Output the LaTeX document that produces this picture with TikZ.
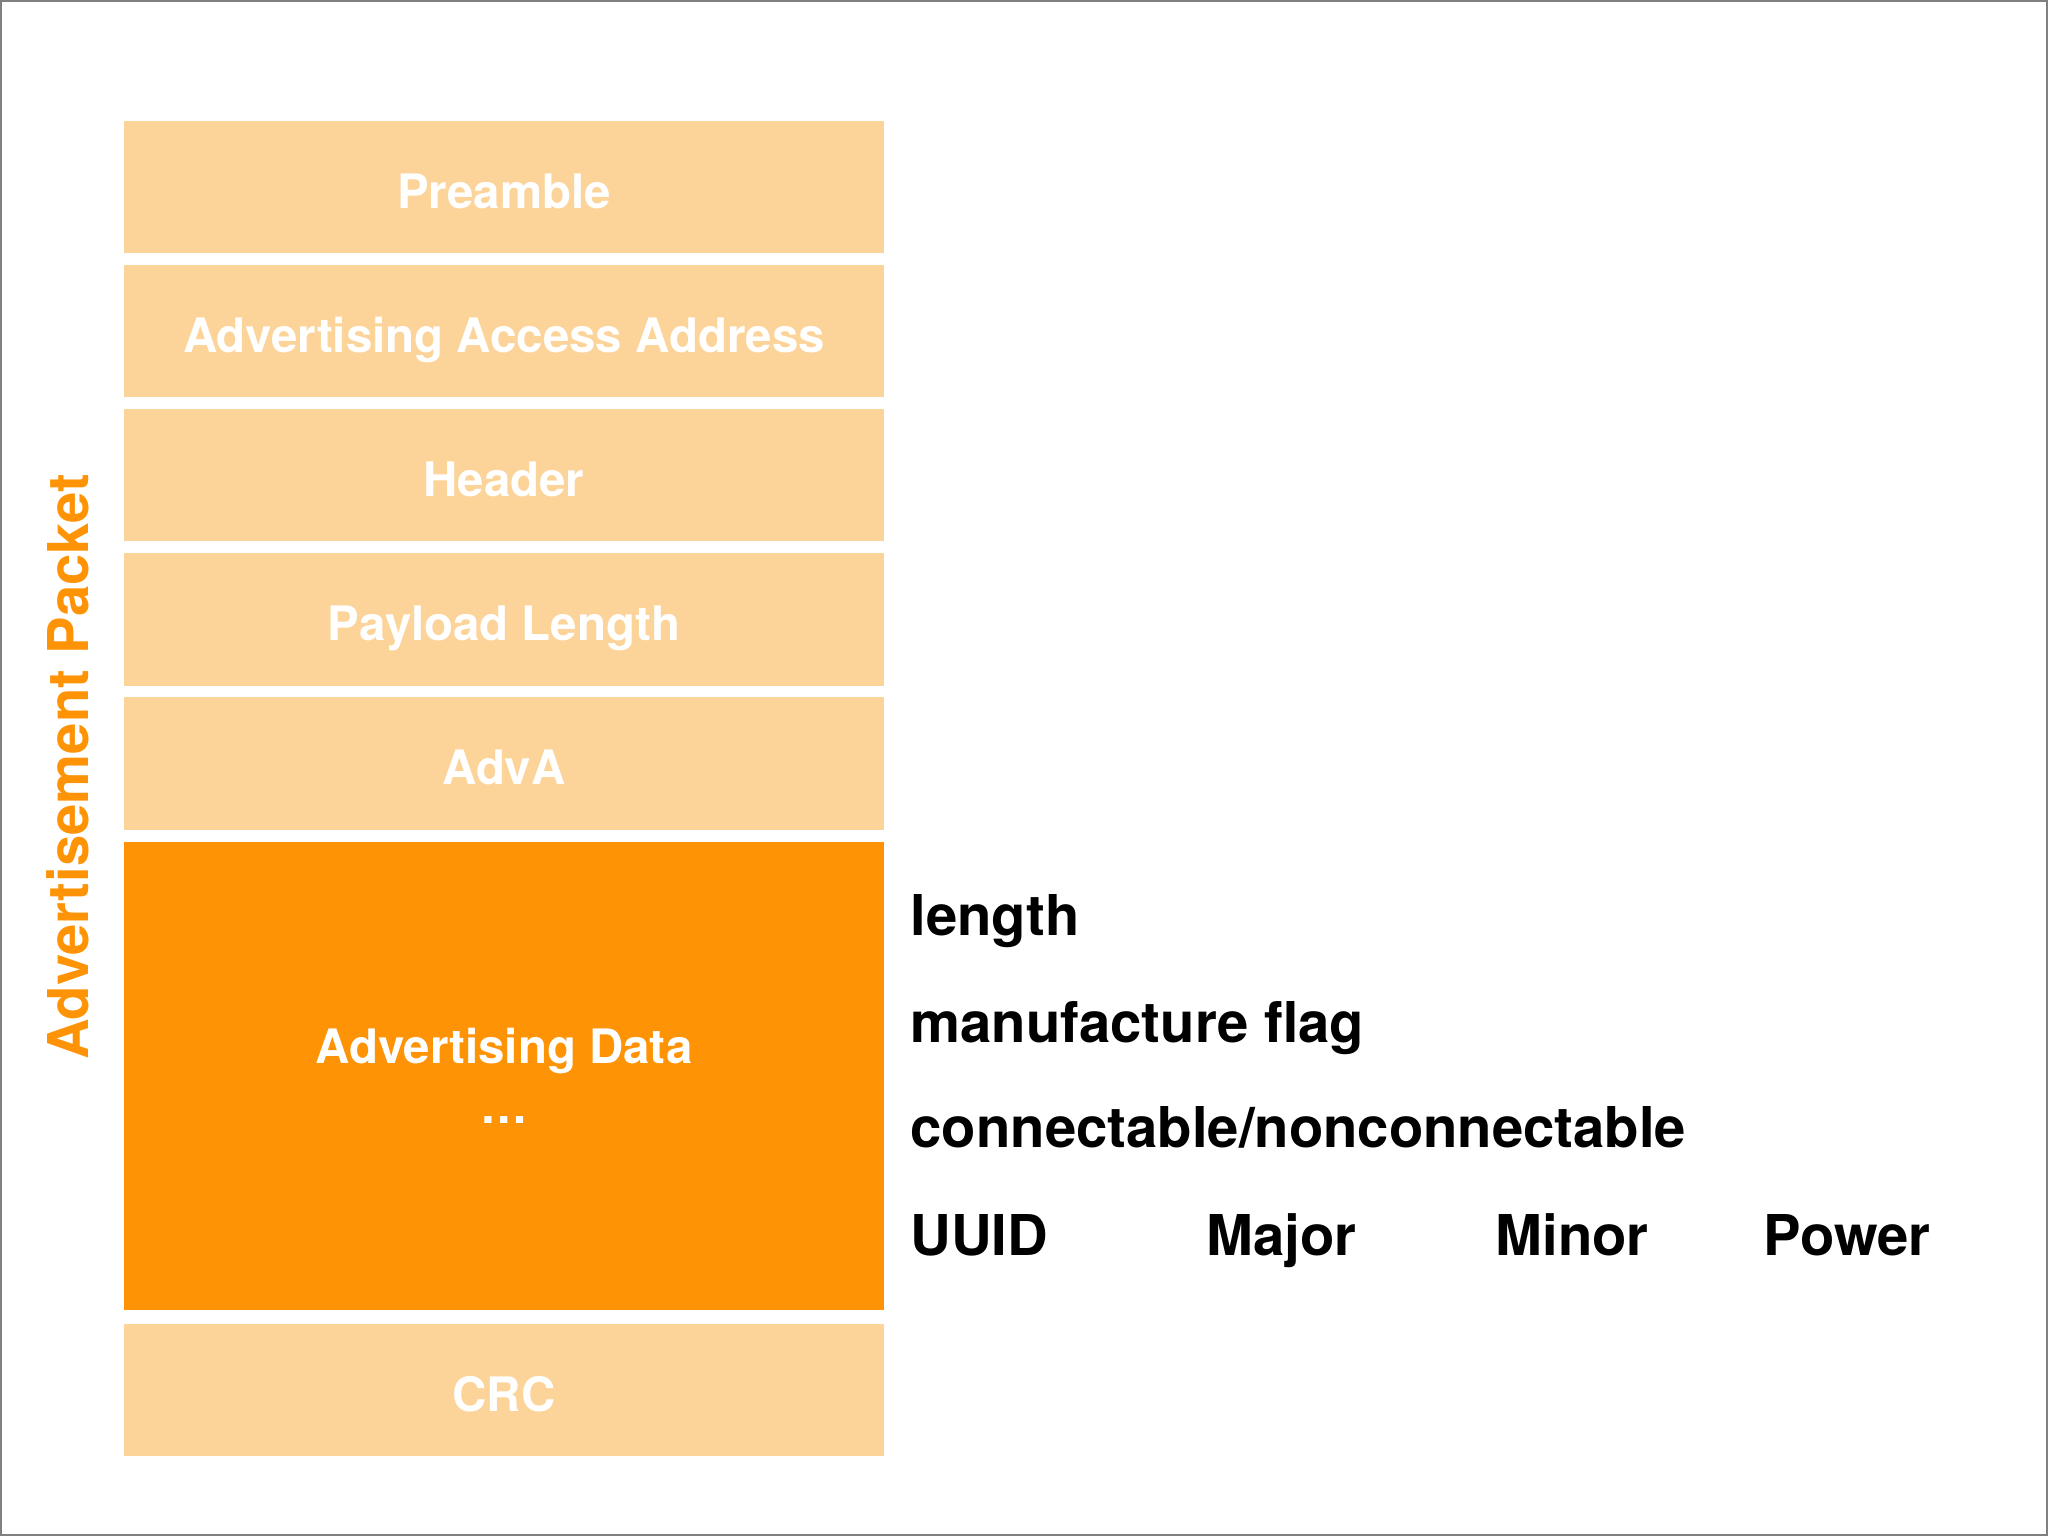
\documentclass[tikz,border=0pt]{standalone}
\usepackage{fontspec}
\setmainfont{TeX Gyre Heros}
\definecolor{paleorange}{HTML}{FCD49A}
\definecolor{deeporange}{HTML}{FE9305}
\begin{document}
\begin{tikzpicture}[
    box/.style={rectangle, minimum width=7.6cm, inner sep=0pt, text=white,
        font=\fontsize{13.5}{16}\selectfont\bfseries, align=center},
    field/.style={box, fill=paleorange, minimum height=1.32cm, text height=12pt, text depth=0pt},
    datafield/.style={box, fill=deeporange, minimum height=4.685cm},
    item/.style={anchor=base west, inner sep=0pt, text=black, font=\fontsize{16}{19}\selectfont\bfseries}
]
    \useasboundingbox (0,0) rectangle (20.48,-15.36);
    \draw[gray, line width=0.4mm] (0,0) rectangle (20.48,-15.36);

    \node[field] at (5.04,-1.875) (pre) {Preamble};
    \node[field] at (5.04,-3.315) (acc) {Advertising Access Address};
    \node[field] at (5.04,-4.755) (hdr) {Header};
    \node[field] at (5.04,-6.195) (len) {Payload Length};
    \node[field] at (5.04,-7.635) (adva) {AdvA};
    \node[datafield] at (5.04,-10.7575) (data) {Advertising Data\\[1pt]\ldots};
    \node[field] at (5.04,-13.9) (crc) {CRC};

    \node[rotate=90, text=deeporange, font=\fontsize{16}{19}\selectfont\bfseries] at (0.68,-7.67) (pkt) {Advertisement Packet};

    \node[item] at (9.10,-9.35) (length) {length};
    \node[item] at (9.10,-10.42) (flag) {manufacture flag};
    \node[item] at (9.10,-11.47) (conn) {connectable/nonconnectable};
    \node[item] at (9.10,-12.55) (uuid) {UUID};
    \node[item] at (12.06,-12.55) (major) {Major};
    \node[item] at (14.95,-12.55) (minor) {Minor};
    \node[item] at (17.63,-12.55) (power) {Power};
\end{tikzpicture}
\end{document}
